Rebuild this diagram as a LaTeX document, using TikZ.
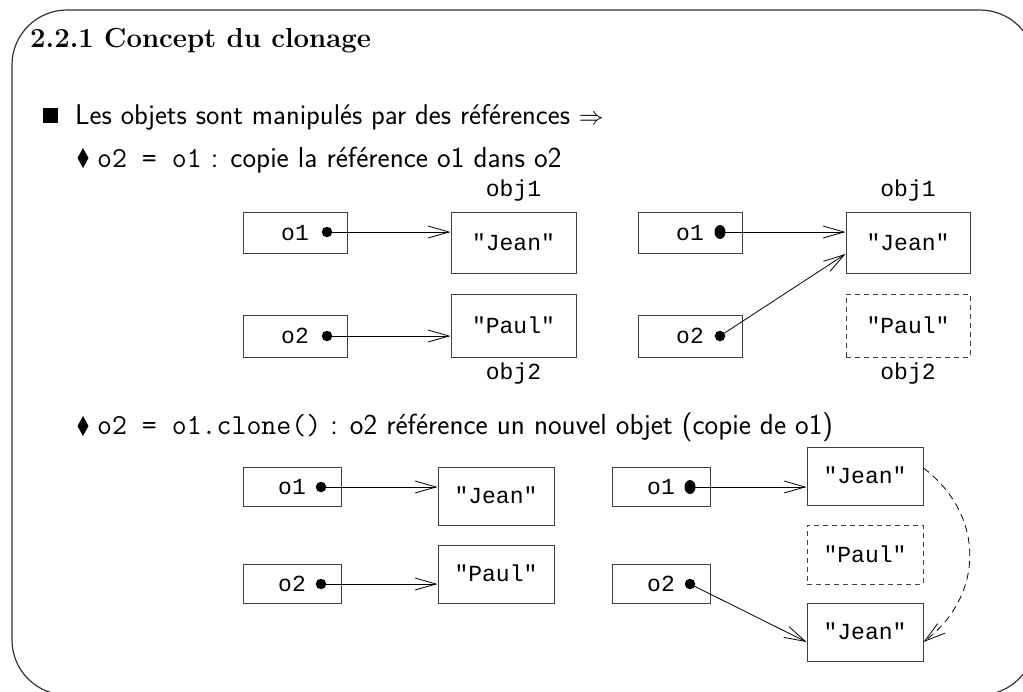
\documentclass[tikz,border=0pt]{standalone}
\usepackage{fontspec}
\newfontfamily\cour{Liberation Mono}
\usetikzlibrary{arrows.meta,calc,shapes.geometric}
\begin{document}
\begin{tikzpicture}[x=1pt,y=-1pt,
  obox/.style={draw=black!75, line width=1pt, inner sep=0pt,
    font=\cour\fontsize{23}{23}\selectfont, text height=15pt, text depth=0pt},
  dbox/.style={obox, dash pattern=on 5pt off 4pt},
  lbl/.style={inner sep=0pt, font=\cour\fontsize{23}{23}\selectfont, text height=15pt, text depth=5pt},
  dot/.style={circle, fill=black, inner sep=0pt, minimum size=10.5pt},
  edot/.style={ellipse, fill=black, inner sep=0pt, minimum width=11pt, minimum height=14pt},
  ar/.style={line width=0.8pt, -{Straight Barb[length=21pt,width=12pt]}},
  dar/.style={line width=0.8pt, dash pattern=on 7pt off 5pt, -{Straight Barb[length=21pt,width=12pt]}},
  txt/.style={anchor=base west, inner sep=0pt, font=\sffamily\fontsize{29}{32}\selectfont}]
\useasboundingbox (0,0) rectangle (1023,691);
\clip (0,0) rectangle (1023,691);
% frame
\draw[line width=1.2pt, black!80, rounded corners=55pt] (12,10) rectangle (1035,695);
% title
\node[anchor=base west, inner sep=0pt, font=\fontsize{27.5}{30}\selectfont\bfseries] (title) at (30,47) {2.2.1 Concept du clonage};
% line 1
\fill (43,108) rectangle (58,123);
\node[txt, font=\sffamily\fontsize{28.5}{32}\selectfont] (l1) at (75,124) {Les objets sont manipulés par des références $\Rightarrow$};
% line 2
\fill (83,148) -- (88.5,158) -- (83,168) -- (77.5,158) -- cycle;
\node[txt] (l2) at (97,167) {{\ttfamily o2 = o1} : copie la référence o1 dans o2};
% line 3
\fill (83,416) -- (88.5,426) -- (83,436) -- (77.5,426) -- cycle;
\node[txt] (l3) at (97,434) {{\ttfamily o2 = o1.clone()} : o2 référence un nouvel objet (copie de o1)};

% ---------- top-left ----------
\node[obox, minimum width=104pt, minimum height=41pt] (a1o1) at (295,232.5) {o1};
\node[obox, minimum width=104pt, minimum height=42pt] (a1o2) at (295,336) {o2};
\node[obox, minimum width=125pt, minimum height=61pt] (a1J) at (513.5,242.5) {"Jean"};
\node[obox, minimum width=125pt, minimum height=63pt] (a1P) at (513.5,325.5) {"Paul"};
\node[lbl] (a1n1) at (513.5,191) {obj1};
\node[lbl] (a1n2) at (513.5,374) {obj2};
\node[dot] (a1d1) at (327,232) {};
\node[dot] (a1d2) at (327,336) {};
\draw[ar] (a1d1.center) -- (a1J.west |- a1d1.center);
\draw[ar] (a1d2.center) -- (a1P.west |- a1d2.center);

% ---------- top-right ----------
\node[obox, minimum width=104pt, minimum height=41pt] (a2o1) at (690,232.5) {o1};
\node[obox, minimum width=104pt, minimum height=42pt] (a2o2) at (690,336) {o2};
\node[obox, minimum width=124pt, minimum height=61pt] (a2J) at (908,242.5) {"Jean"};
\node[dbox, minimum width=124pt, minimum height=63pt] (a2P) at (908,325.5) {"Paul"};
\node[lbl] (a2n1) at (908,191) {obj1};
\node[lbl] (a2n2) at (908,374) {obj2};
\node[edot] (a2d1) at (720,232) {};
\node[dot] (a2d2) at (720,336) {};
\coordinate (a2t2) at ($(a2J.west)+(0,11.5)$);
\draw[ar] (a2d1.center) -- (a2J.west |- a2d1.center);
\draw[ar] (a2d2.center) -- (a2t2);

% ---------- bottom-left ----------
\node[obox, minimum width=98pt, minimum height=39pt] (b1o1) at (292,486.5) {o1};
\node[obox, minimum width=98pt, minimum height=39pt] (b1o2) at (292,583.5) {o2};
\node[obox, minimum width=116pt, minimum height=58pt] (b1J) at (496,496) {"Jean"};
\node[obox, minimum width=116pt, minimum height=58pt] (b1P) at (496,574) {"Paul"};
\node[dot] (b1d1) at (321,487) {};
\node[dot] (b1d2) at (321,584) {};
\draw[ar] (b1d1.center) -- (b1J.west |- b1d1.center);
\draw[ar] (b1d2.center) -- (b1P.west |- b1d2.center);

% ---------- bottom-right ----------
\node[obox, minimum width=98pt, minimum height=39pt] (b2o1) at (661,486.5) {o1};
\node[obox, minimum width=98pt, minimum height=39pt] (b2o2) at (661,583.5) {o2};
\node[obox, minimum width=116pt, minimum height=58pt] (b2J) at (865,476) {"Jean"};
\node[dbox, minimum width=116pt, minimum height=59pt] (b2P) at (865,554.5) {"Paul"};
\node[obox, minimum width=116pt, minimum height=58pt] (b2J2) at (865,632) {"Jean"};
\node[edot] (b2d1) at (690,487) {};
\node[dot] (b2d2) at (690,584) {};
\coordinate (b2t2) at ($(b2J2.west)+(0,10)$);
\coordinate (b2s) at ($(b2J.east)+(0,-8)$);
\coordinate (b2e) at ($(b2J2.east)+(0,10)$);
\draw[ar] (b2d1.center) -- (b2J.west |- b2d1.center);
\draw[ar] (b2d2.center) -- (b2t2);
\draw[dar] (b2s) .. controls (985,515) and (985,595) .. (b2e);
\end{tikzpicture}
\end{document}
